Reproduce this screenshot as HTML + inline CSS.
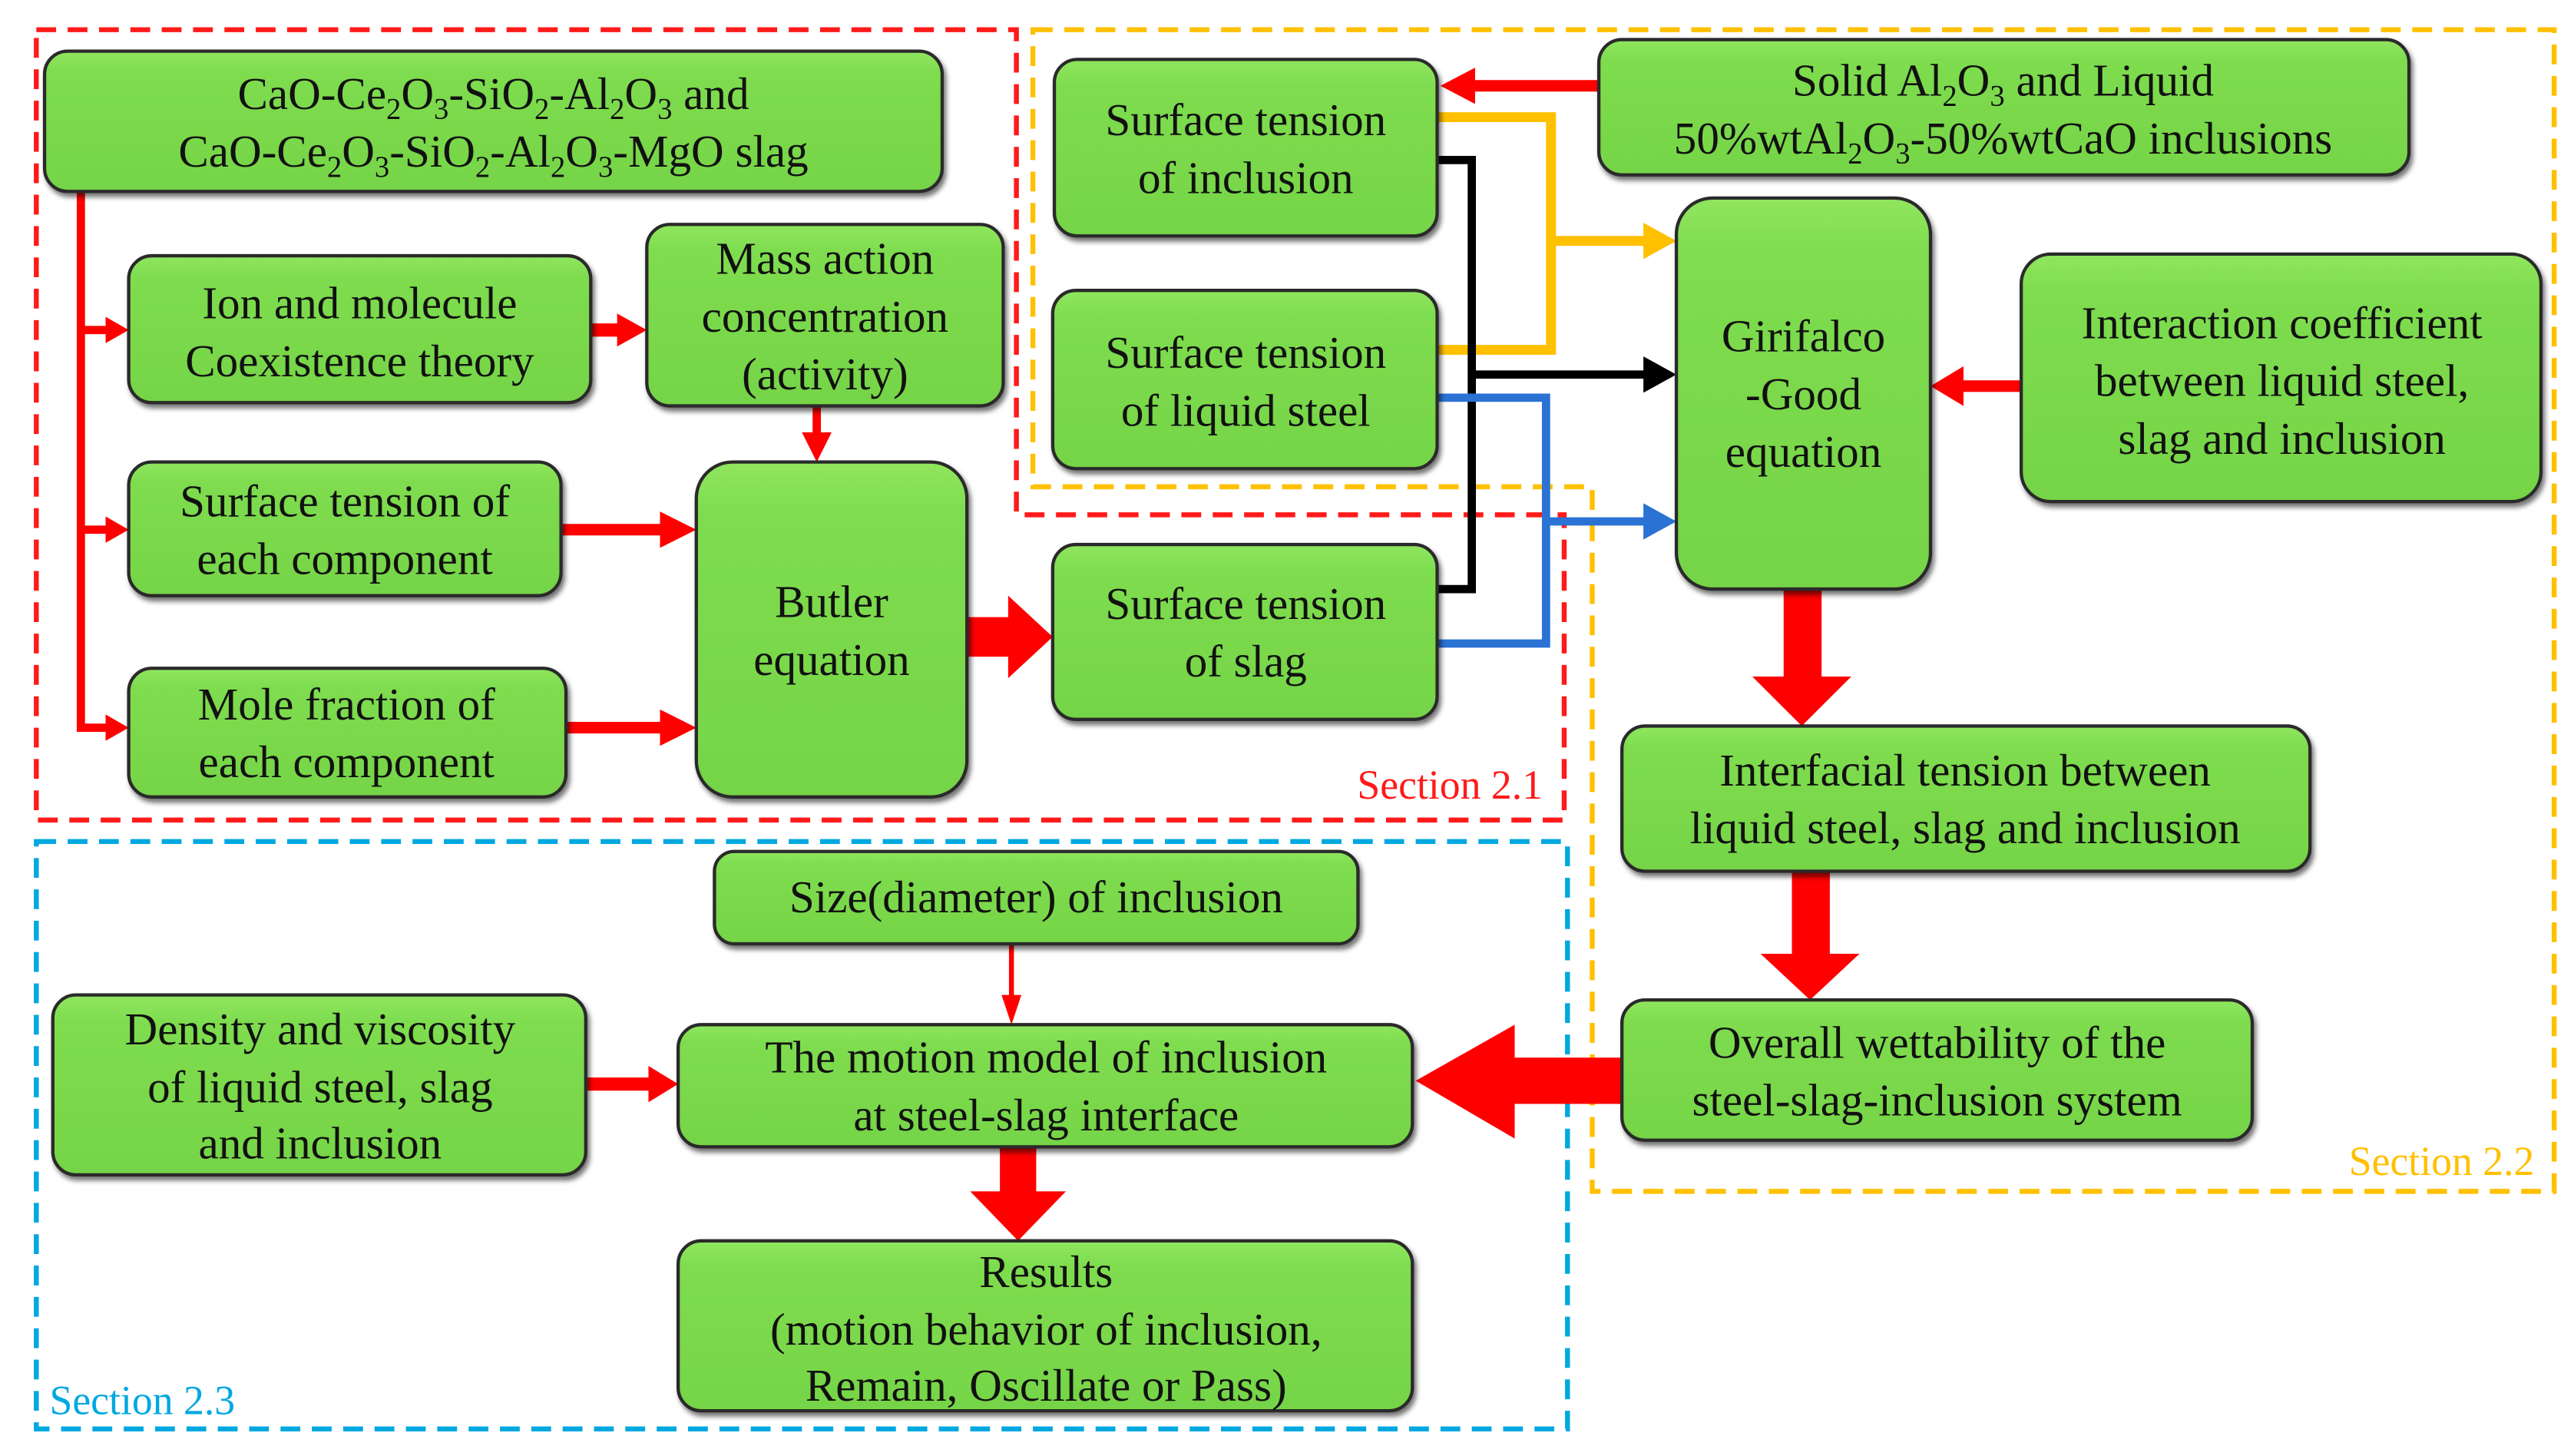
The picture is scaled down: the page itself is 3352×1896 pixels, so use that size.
<!DOCTYPE html>
<html><head><meta charset="utf-8"><style>
html,body{margin:0;padding:0;background:#fff;}
svg{display:block;}
text{font-family:"Liberation Serif",serif;font-size:27.5px;fill:#111;}
.b{fill:url(#g);stroke:#2b2b2b;stroke-width:2;filter:url(#sh);}
</style></head><body>
<svg width="3352" height="1896" viewBox="0 0 1560 882.4" xmlns="http://www.w3.org/2000/svg">
<defs>
<linearGradient id="g" x1="0" y1="0" x2="0" y2="1">
<stop offset="0" stop-color="#90e65e"/><stop offset="0.15" stop-color="#7edc4f"/><stop offset="1" stop-color="#76d447"/>
</linearGradient>
<filter id="sh" x="-5%" y="-5%" width="115%" height="120%"><feDropShadow dx="1.5" dy="2.5" stdDeviation="1.5" flood-color="#000" flood-opacity="0.55"/></filter>
</defs>

<polygon points="22,18 616,18 616,312 948,312 948,497 22,497" fill="none" stroke="#ff1a1a" stroke-width="3" stroke-dasharray="12,7"/>
<polygon points="626,18 1548,18 1548,722 965,722 965,295 626,295" fill="none" stroke="#ffc000" stroke-width="3" stroke-dasharray="12,7"/>
<rect x="22" y="510" width="928" height="356" fill="none" stroke="#00a8e0" stroke-width="3" stroke-dasharray="12,7"/>

<g stroke="#ff0000" stroke-width="5" fill="none">
<polyline points="49,116 49,441 66,441"/>
<line x1="49" y1="200" x2="66" y2="200"/><line x1="49" y1="321" x2="66" y2="321"/>
<line x1="358" y1="200" x2="378" y2="200" stroke-width="8"/>
<line x1="495" y1="246" x2="495" y2="266"/>
<line x1="340" y1="321" x2="404" y2="321" stroke-width="7"/>
<line x1="343" y1="441" x2="404" y2="441" stroke-width="7"/>
<line x1="969" y1="52" x2="890" y2="52" stroke-width="7"/>
<line x1="1225" y1="234" x2="1188" y2="234" stroke-width="7"/>
<line x1="613" y1="572" x2="613" y2="605" stroke-width="3"/>
<line x1="355" y1="657" x2="396" y2="657" stroke-width="8"/>
</g>
<g fill="#ff0000">
<polygon points="78,200 64,192 64,208"/><polygon points="78,321 64,313 64,329"/><polygon points="78,441 64,433 64,449"/>
<polygon points="392,200 374,190 374,210"/>
<polygon points="495,280 486,262 504,262"/>
<polygon points="422,321 400,310 400,332"/>
<polygon points="422,441 400,430 400,452"/>
<polygon points="586,374 611,374 611,361 638,386 611,411 611,398 586,398"/>
<polygon points="873,52 894,41 894,63"/>
<polygon points="1170,234 1190,222 1190,246"/>
<polygon points="1081,357 1104,357 1104,410 1122,410 1092,440 1062,410 1081,410"/>
<polygon points="1086,528 1109,528 1109,578 1127,578 1097,606 1067,578 1086,578"/>
<polygon points="983,641 918,641 918,621 858,655 918,690 918,669 983,669"/>
<polygon points="613,621 607,603 619,603"/>
<polygon points="411,657 393,646 393,668"/>
<polygon points="606,695 628,695 628,722 646,722 617,752 588,722 606,722"/>
</g>
<g stroke="#ffc000" stroke-width="6" fill="none">
<polyline points="871,71 940,71 940,212 871,212"/>
<line x1="940" y1="146" x2="998" y2="146"/>
</g>
<polygon points="1016,146 996,135 996,157" fill="#ffc000"/>
<g stroke="#000" stroke-width="5" fill="none">
<polyline points="871,97 892,97 892,357 871,357"/>
<line x1="892" y1="227" x2="998" y2="227"/>
</g>
<polygon points="1016,227 996,216 996,238" fill="#000"/>
<g stroke="#2a72d4" stroke-width="5" fill="none">
<polyline points="871,241 937,241 937,390 871,390"/>
<line x1="937" y1="316" x2="998" y2="316"/>
</g>
<polygon points="1016,316 996,305 996,327" fill="#2a72d4"/>

<rect class="b" x="27" y="31" width="544" height="85" rx="14"/>
<rect class="b" x="78" y="155" width="280" height="89" rx="14"/>
<rect class="b" x="392" y="136" width="216" height="110" rx="14"/>
<rect class="b" x="78" y="280" width="262" height="81" rx="14"/>
<rect class="b" x="78" y="405" width="265" height="78" rx="14"/>
<rect class="b" x="422" y="280" width="164" height="203" rx="22"/>
<rect class="b" x="639" y="36" width="232" height="107" rx="14"/>
<rect class="b" x="638" y="176" width="233" height="108" rx="14"/>
<rect class="b" x="638" y="330" width="233" height="106" rx="14"/>
<rect class="b" x="969" y="24" width="491" height="82" rx="14"/>
<rect class="b" x="1016" y="120" width="154" height="237" rx="22"/>
<rect class="b" x="1225" y="154" width="315" height="150" rx="18"/>
<rect class="b" x="983" y="440" width="417" height="88" rx="14"/>
<rect class="b" x="983" y="606" width="382" height="85" rx="14"/>
<rect class="b" x="433" y="516" width="390" height="56" rx="12"/>
<rect class="b" x="32" y="603" width="323" height="109" rx="14"/>
<rect class="b" x="411" y="621" width="445" height="74" rx="14"/>
<rect class="b" x="411" y="752" width="445" height="103" rx="14"/>

<g text-anchor="middle">
<text x="299" y="66">CaO-Ce<tspan font-size="18" dy="6">2</tspan><tspan dy="-6">O</tspan><tspan font-size="18" dy="6">3</tspan><tspan dy="-6">-SiO</tspan><tspan font-size="18" dy="6">2</tspan><tspan dy="-6">-Al</tspan><tspan font-size="18" dy="6">2</tspan><tspan dy="-6">O</tspan><tspan font-size="18" dy="6">3</tspan><tspan dy="-6"> and</tspan></text>
<text x="299" y="101">CaO-Ce<tspan font-size="18" dy="6">2</tspan><tspan dy="-6">O</tspan><tspan font-size="18" dy="6">3</tspan><tspan dy="-6">-SiO</tspan><tspan font-size="18" dy="6">2</tspan><tspan dy="-6">-Al</tspan><tspan font-size="18" dy="6">2</tspan><tspan dy="-6">O</tspan><tspan font-size="18" dy="6">3</tspan><tspan dy="-6">-MgO slag</tspan></text>
<text x="218" y="193">Ion and molecule</text><text x="218" y="228">Coexistence theory</text>
<text x="500" y="166">Mass action</text><text x="500" y="201">concentration</text><text x="500" y="236">(activity)</text>
<text x="209" y="313">Surface tension of</text><text x="209" y="348">each component</text>
<text x="210" y="436">Mole fraction of</text><text x="210" y="471">each component</text>
<text x="504" y="374">Butler</text><text x="504" y="409">equation</text>
<text x="755" y="82">Surface tension</text><text x="755" y="117">of inclusion</text>
<text x="755" y="223">Surface tension</text><text x="755" y="258">of liquid  steel</text>
<text x="755" y="375">Surface tension</text><text x="755" y="410">of slag</text>
<text x="1214" y="58">Solid Al<tspan font-size="18" dy="6">2</tspan><tspan dy="-6">O</tspan><tspan font-size="18" dy="6">3</tspan><tspan dy="-6"> and Liquid</tspan></text>
<text x="1214" y="93">50%wtAl<tspan font-size="18" dy="6">2</tspan><tspan dy="-6">O</tspan><tspan font-size="18" dy="6">3</tspan><tspan dy="-6">-50%wtCaO inclusions</tspan></text>
<text x="1093" y="213">Girifalco</text><text x="1093" y="248">-Good</text><text x="1093" y="283">equation</text>
<text x="1383" y="205">Interaction coefficient</text><text x="1383" y="240">between liquid  steel,</text><text x="1383" y="275">slag and inclusion</text>
<text x="1191" y="476">Interfacial tension between</text><text x="1191" y="511">liquid  steel, slag and inclusion</text>
<text x="1174" y="641">Overall wettability of the</text><text x="1174" y="676">steel-slag-inclusion  system</text>
<text x="628" y="553">Size(diameter) of inclusion</text>
<text x="194" y="633">Density and viscosity</text><text x="194" y="668">of liquid  steel, slag</text><text x="194" y="702">and inclusion</text>
<text x="634" y="650">The motion model of inclusion</text><text x="634" y="685">at steel-slag interface</text>
<text x="634" y="780">Results</text><text x="634" y="815">(motion behavior of inclusion,</text><text x="634" y="849">Remain, Oscillate or Pass)</text>
</g>
<text x="935" y="484" text-anchor="end" style="fill:#ff1a1a;font-size:25px">Section 2.1</text>
<text x="1536" y="712" text-anchor="end" style="fill:#ffc000;font-size:25px">Section 2.2</text>
<text x="30" y="857" style="fill:#00a8e0;font-size:25px">Section 2.3</text>
</svg>
</body></html>
